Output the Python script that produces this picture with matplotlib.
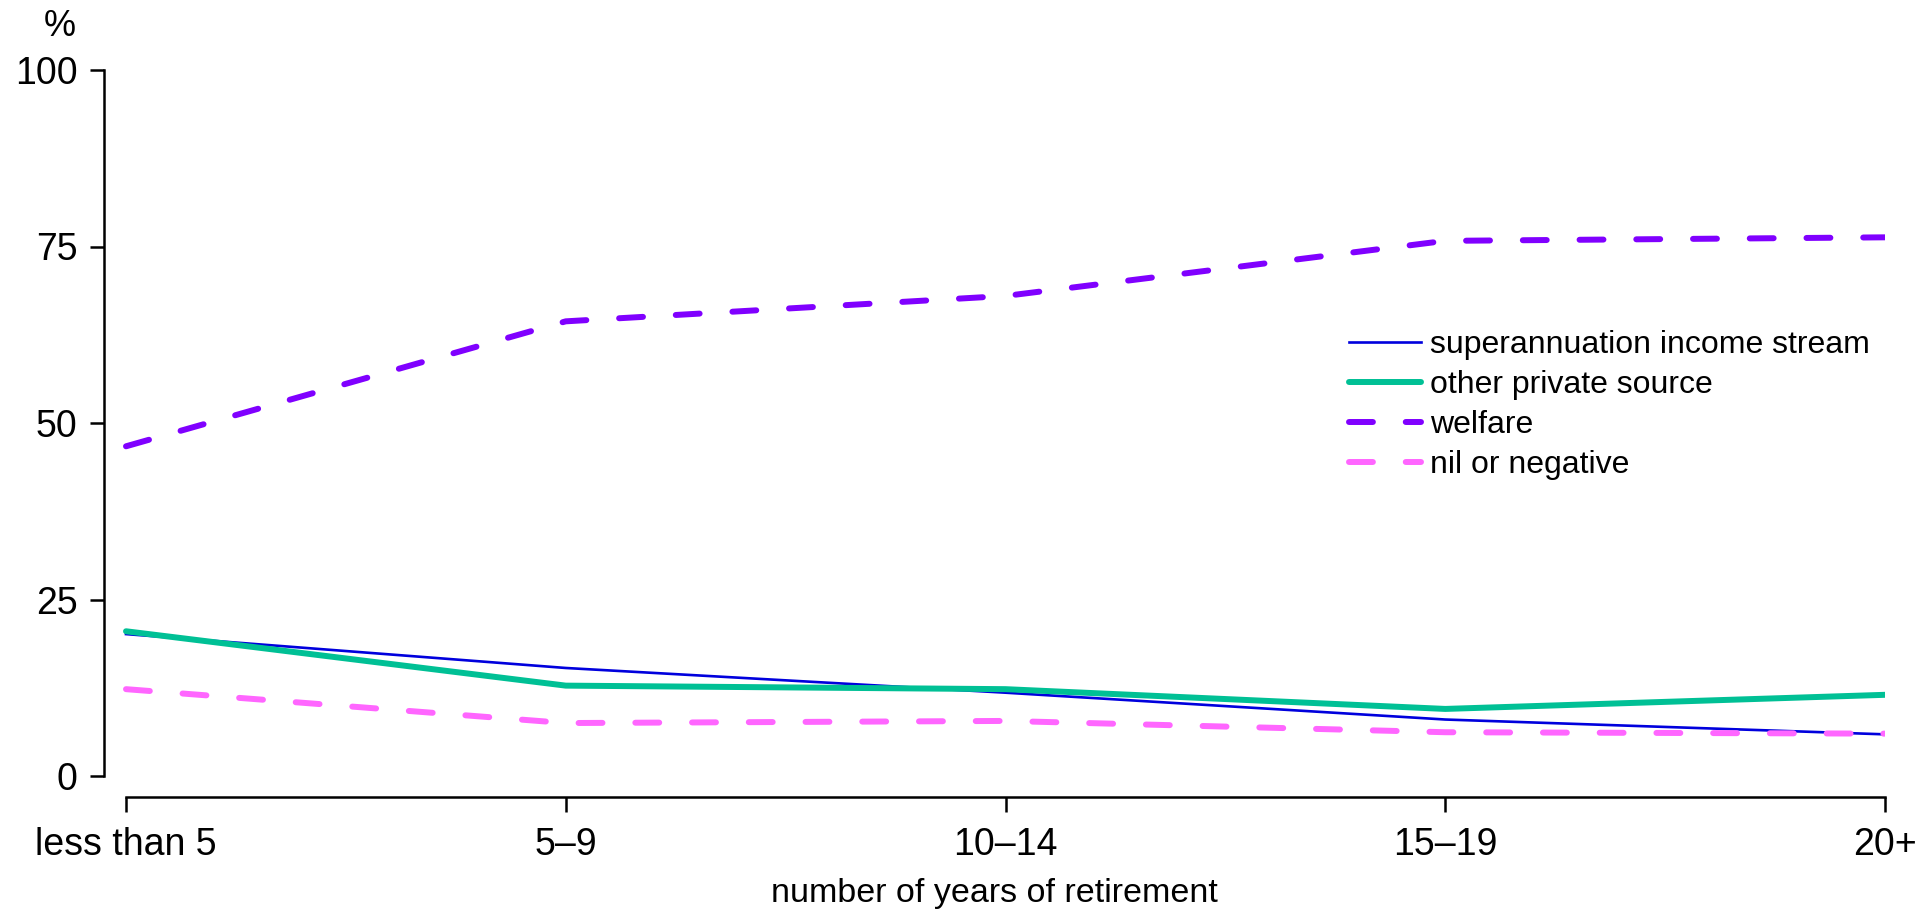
import matplotlib
matplotlib.use("Agg")
import matplotlib.pyplot as plt

categories = ["less than 5", "5–9", "10–14", "15–19", "20+"]
superannuation = [20.1, 15.3, 11.8, 8.0, 5.9]
other_private = [20.5, 12.8, 12.3, 9.5, 11.5]
welfare = [46.7, 64.4, 68.0, 75.8, 76.3]
nil_negative = [12.3, 7.5, 7.8, 6.2, 6.0]
yticks = [0, 25, 50, 75, 100]

plt.rcParams['font.family'] = ['Liberation Sans', 'DejaVu Sans']
W, H = 1923, 910
fig = plt.figure(figsize=(W / 100, H / 100), dpi=100)
left, right = 104 / W, 1885 / W
bottom, top = 1 - 776 / H, 1 - 70 / H
ax = fig.add_axes([left, bottom, right - left, top - bottom])

x = list(range(len(categories)))
ax.plot(x, superannuation, color="#0000DD", lw=1.9, label="superannuation income stream")
ax.plot(x, other_private, color="#00C095", lw=4.3, solid_capstyle="round",
        label="other private source")
ax.plot(x, welfare, color="#8000FF", lw=4.3, dashes=(4, 5.5), dash_capstyle="round",
        label="welfare")
ax.plot(x, nil_negative, color="#FF66FF", lw=4.3, dashes=(4, 5.5), dash_capstyle="round",
        label="nil or negative")

a = 4 * 22 / 1759
ax.set_xlim(-a, 4)
ax.set_ylim(0, 100)
for s in ["top", "right"]:
    ax.spines[s].set_visible(False)
ax.spines["bottom"].set_position(("outward", 15))
ax.spines["bottom"].set_bounds(0, 4)
ax.spines["left"].set_bounds(0, 100)
for s in ["left", "bottom"]:
    ax.spines[s].set_linewidth(1.8)
ax.set_xticks(x)
ax.set_xticklabels(categories)
ax.set_yticks(yticks)
ax.set_yticklabels([str(v) for v in yticks])
ax.tick_params(axis="y", length=10, width=1.8, labelsize=27, pad=9)
ax.tick_params(axis="x", length=11, width=1.8, labelsize=27, pad=11)
ax.set_xlabel("number of years of retirement", fontsize=24.5, labelpad=10.5)
fig.text(60 / W, 1 - 27 / H, "%", fontsize=26, ha="center", va="center")

leg = ax.legend(loc="upper left", bbox_to_anchor=(1349 / W, 1 - 330 / H),
                bbox_transform=fig.transFigure, frameon=False, fontsize=23,
                handlelength=2.25, handletextpad=0.28, labelspacing=0.31,
                borderpad=0, borderaxespad=0)

fig.savefig("out.png", dpi=100)
